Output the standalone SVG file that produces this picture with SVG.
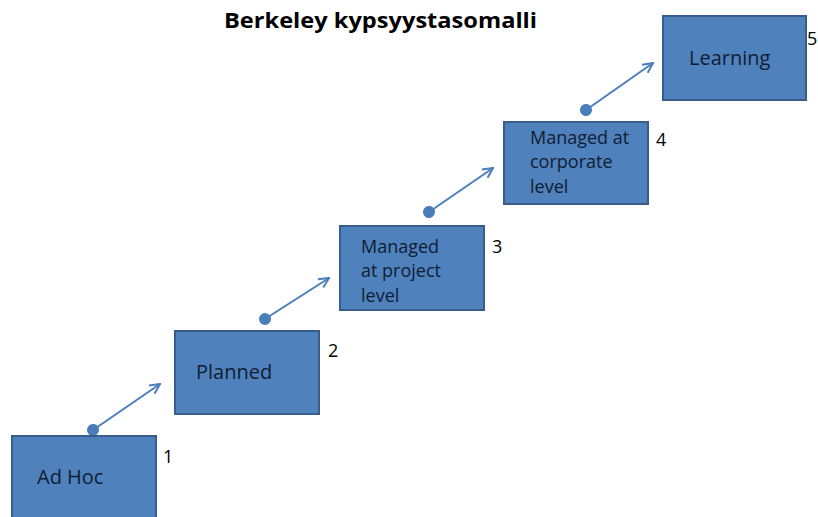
<svg xmlns="http://www.w3.org/2000/svg" width="818" height="517" viewBox="0 0 818 517">
<style>
.box{fill:#4F81BD;stroke:#385D8A;stroke-width:2}
.lbl{font-family:"Open Sans","Liberation Sans",sans-serif;fill:#0f1d33}
.big{font-size:20px}
.sm{font-size:18px}
.num{font-family:"Open Sans","Liberation Sans",sans-serif;font-size:18px;fill:#000}
.title{font-family:"Open Sans","Liberation Sans",sans-serif;font-size:21px;font-weight:bold;fill:#000}
.con{stroke:#4A7EBB;stroke-width:2;fill:none;marker-start:url(#dot);marker-end:url(#arr)}
</style>
<defs>
<marker id="dot" viewBox="0 0 12 12" refX="6" refY="6" markerWidth="6" markerHeight="6" orient="auto" markerUnits="strokeWidth">
<circle cx="6" cy="6" r="6" fill="#4A7EBB"/>
</marker>
<marker id="arr" viewBox="0 0 12 12" refX="11" refY="6" markerWidth="6" markerHeight="6" orient="auto" markerUnits="strokeWidth">
<path d="M1,1 L11,6 L1,11" fill="none" stroke="#4A7EBB" stroke-width="2"/>
</marker>
</defs>
<rect width="818" height="517" fill="#fff"/>
<text class="title" x="224" y="28" textLength="313" lengthAdjust="spacingAndGlyphs">Berkeley kypsyystasomalli</text>
<g id="connectors">
<line class="con" x1="93" y1="430" x2="160" y2="384"/>
<line class="con" x1="265" y1="319" x2="329" y2="278"/>
<line class="con" x1="429" y1="212" x2="493" y2="168"/>
<line class="con" x1="586" y1="110" x2="653" y2="63"/>
</g>
<g id="n1">
<rect class="box" x="12" y="436" width="144" height="90"/>
<text class="lbl big" x="37" y="484">Ad Hoc</text>
<text class="num" x="163" y="463">1</text>
</g>
<g id="n2">
<rect class="box" x="175" y="331" width="144" height="83"/>
<text class="lbl big" x="196" y="379">Planned</text>
<text class="num" x="328" y="357">2</text>
</g>
<g id="n3">
<rect class="box" x="340" y="226" width="144" height="84"/>
<text class="lbl sm" x="361" y="253">Managed</text>
<text class="lbl sm" x="361" y="277">at project</text>
<text class="lbl sm" x="361" y="302">level</text>
<text class="num" x="492" y="253">3</text>
</g>
<g id="n4">
<rect class="box" x="504" y="122" width="144" height="82"/>
<text class="lbl sm" x="530" y="144">Managed at</text>
<text class="lbl sm" x="530" y="168">corporate</text>
<text class="lbl sm" x="530" y="193">level</text>
<text class="num" x="656" y="146">4</text>
</g>
<g id="n5">
<rect class="box" x="663" y="16" width="143" height="84"/>
<text class="lbl big" x="689" y="65">Learning</text>
<text class="num" x="807" y="45">5</text>
</g>
</svg>
